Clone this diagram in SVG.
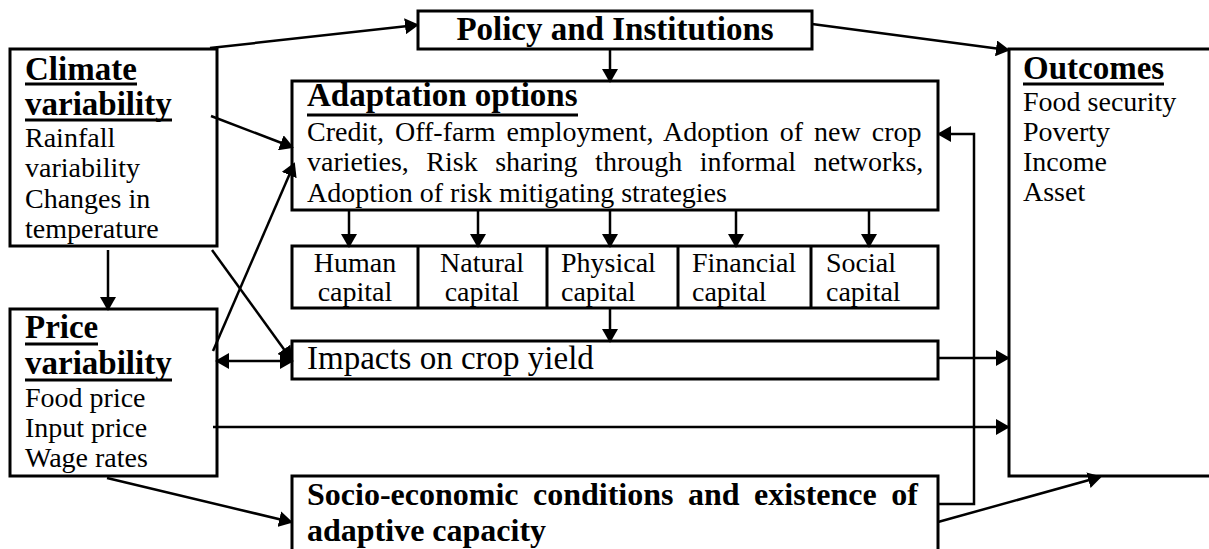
<svg xmlns="http://www.w3.org/2000/svg" width="1209" height="549" viewBox="0 0 1209 549">
<style>
.box{fill:#fff;stroke:#000;stroke-width:3}
.t{font-family:"Liberation Serif","Times New Roman",serif;font-size:28px;fill:#000}
.h{font-family:"Liberation Serif","Times New Roman",serif;font-size:33px;font-weight:bold;fill:#000}
.big{font-family:"Liberation Serif","Times New Roman",serif;font-size:33px;fill:#000}
.ul{stroke:#000;stroke-width:3}
.c{fill:none;stroke:#000;stroke-width:2.5}
.a{marker-end:url(#ah)}
</style>
<defs>
<marker id="ah" viewBox="0 0 14 16" refX="12" refY="8" markerWidth="14" markerHeight="16" markerUnits="userSpaceOnUse" orient="auto-start-reverse">
<path d="M0,0 L14,8 L0,16 z" fill="#000"/>
</marker>
</defs>

<g id="policy">
<rect class="box" x="418" y="11" width="394" height="38"/>
<text class="h" x="615" y="40" text-anchor="middle">Policy and Institutions</text>
</g>

<g id="climate">
<rect class="box" x="10" y="49" width="207" height="197"/>
<text class="h"><tspan x="25" y="80">Climate</tspan><tspan x="25" y="115">variability</tspan></text>
<line class="ul" x1="25" y1="84" x2="137" y2="84"/>
<line class="ul" x1="25" y1="120" x2="172" y2="120"/>
<text class="t"><tspan x="25" y="147">Rainfall</tspan><tspan x="25" y="177">variability</tspan><tspan x="25" y="208">Changes in</tspan><tspan x="25" y="238">temperature</tspan></text>
</g>

<g id="adaptation">
<rect class="box" x="292" y="81" width="646" height="129"/>
<text class="h" x="307" y="106">Adaptation options</text>
<line class="ul" x1="307" y1="115" x2="578" y2="115"/>
<text class="t"><tspan x="307" y="141" word-spacing="4">Credit, Off-farm employment, Adoption of new crop</tspan><tspan x="307" y="171" word-spacing="10.5">varieties, Risk sharing through informal networks,</tspan><tspan x="307" y="202">Adoption of risk mitigating strategies</tspan></text>
</g>

<g id="outcomes">
<rect class="box" x="1009" y="49" width="215" height="427"/>
<text class="h" x="1023" y="79">Outcomes</text>
<line class="ul" x1="1023" y1="84" x2="1164" y2="84"/>
<text class="t"><tspan x="1023" y="111">Food security</tspan><tspan x="1023" y="141">Poverty</tspan><tspan x="1023" y="171">Income</tspan><tspan x="1023" y="201">Asset</tspan></text>
</g>

<g id="capitals">
<rect class="box" x="292" y="246" width="646" height="62"/>
<line class="ul" x1="418" y1="246" x2="418" y2="308"/>
<line class="ul" x1="547" y1="246" x2="547" y2="308"/>
<line class="ul" x1="678" y1="246" x2="678" y2="308"/>
<line class="ul" x1="811" y1="246" x2="811" y2="308"/>
<g id="human-capital">
<text class="t" text-anchor="middle"><tspan x="355" y="272">Human</tspan><tspan x="355" y="301">capital</tspan></text>
</g>
<g id="natural-capital">
<text class="t" text-anchor="middle"><tspan x="482" y="272">Natural</tspan><tspan x="482" y="301">capital</tspan></text>
</g>
<g id="physical-capital">
<text class="t"><tspan x="561" y="272">Physical</tspan><tspan x="561" y="301">capital</tspan></text>
</g>
<g id="financial-capital">
<text class="t"><tspan x="692" y="272">Financial</tspan><tspan x="692" y="301">capital</tspan></text>
</g>
<g id="social-capital">
<text class="t"><tspan x="826" y="272">Social</tspan><tspan x="826" y="301">capital</tspan></text>
</g>
</g>

<g id="impacts">
<rect class="box" x="292" y="341" width="646" height="38"/>
<text class="big" x="307" y="369">Impacts on crop yield</text>
</g>

<g id="price">
<rect class="box" x="10" y="309" width="207" height="167"/>
<text class="h"><tspan x="25" y="338">Price</tspan><tspan x="25" y="374">variability</tspan></text>
<line class="ul" x1="25" y1="344" x2="98" y2="344"/>
<line class="ul" x1="25" y1="380" x2="172" y2="380"/>
<text class="t"><tspan x="25" y="407">Food price</tspan><tspan x="25" y="437">Input price</tspan><tspan x="25" y="467">Wage rates</tspan></text>
</g>

<g id="socio">
<rect class="box" x="292" y="476" width="646" height="90"/>
<text class="h" style="font-size:32px"><tspan x="307" y="505" word-spacing="6.5">Socio-economic conditions and existence of</tspan><tspan x="307" y="541">adaptive capacity</tspan></text>
</g>

<g id="connectors">
<line class="c a" x1="210" y1="48" x2="417" y2="25"/>
<line class="c a" x1="812" y1="24" x2="1008" y2="50"/>
<line class="c a" x1="610" y1="49" x2="610" y2="81"/>
<line class="c a" x1="211" y1="116" x2="292" y2="147"/>
<line class="c a" x1="213" y1="351" x2="294" y2="164"/>
<line class="c a" x1="212" y1="250" x2="291" y2="359"/>
<line class="c a" x1="108" y1="250" x2="108" y2="309"/>
<line class="c a" x1="217" y1="361" x2="292" y2="361" marker-start="url(#ah)"/>
<line class="c a" x1="349" y1="210" x2="349" y2="246"/>
<line class="c a" x1="478" y1="210" x2="478" y2="246"/>
<line class="c a" x1="610" y1="210" x2="610" y2="246"/>
<line class="c a" x1="736" y1="210" x2="736" y2="246"/>
<line class="c a" x1="869" y1="210" x2="869" y2="246"/>
<line class="c a" x1="610" y1="308" x2="610" y2="341"/>
<line class="c a" x1="938" y1="358" x2="1008" y2="358"/>
<line class="c a" x1="213" y1="427" x2="1008" y2="427"/>
<line class="c a" x1="107" y1="478" x2="291" y2="522"/>
<polyline class="c a" points="938,504 974,504 974,134 939,134"/>
<line class="c a" x1="938" y1="522" x2="1100" y2="477"/>
</g>
</svg>
